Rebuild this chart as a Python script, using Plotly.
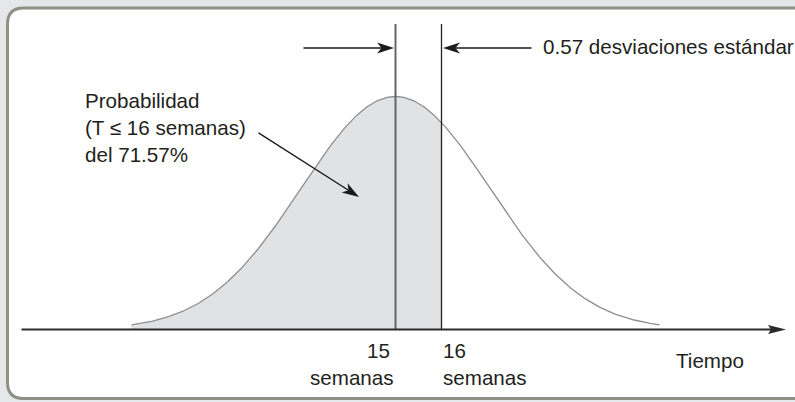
import math

import numpy as np
import plotly.graph_objects as go

# ── values ───────────────────────────────────────────────────────────────────
MEAN_WEEKS = 15          # expected completion time
TARGET_WEEKS = 16        # deadline
Z_SCORE = 0.57           # standard deviations between the two
PROB_TEXT = ["Probabilidad", "(T ≤ 16 semanas)", "del 71.57%"]
TICK_WEEKS = [15, 16]
TICK_UNIT = "semanas"
AXIS_TITLE = "Tiempo"
Z_TEXT = "0.57 desviaciones estándar"

# the bell is drawn illustratively (not to z-scale), as in the original
CURVE_SD = 2.05
TAIL_SD = 2.8

W, H = 795, 402
FONT = "Liberation Sans, Arial, sans-serif"

# axis mapping: 46 px per week, 15 wk at x=395.5 px; baseline at y=329.5 px, peak 233 px tall
PX_WEEK = 46.0
X0 = MEAN_WEEKS - 395.5 / PX_WEEK
X1 = X0 + W / PX_WEEK
PX_Y = 233.0
Y0 = -(H - 329.5) / PX_Y
Y1 = Y0 + H / PX_Y


def py(pix):
    """pixel row (from top) -> y data value"""
    return Y0 + (H - pix) / PX_Y


def pxx(pix):
    """pixel column -> x data value"""
    return X0 + pix / PX_WEEK


def paper(px_x, px_y):
    return px_x / W, 1 - px_y / H


def bell(x):
    return np.exp(-0.5 * ((x - MEAN_WEEKS) / CURVE_SD) ** 2)


x_all = np.linspace(MEAN_WEEKS - TAIL_SD * CURVE_SD, MEAN_WEEKS + TAIL_SD * CURVE_SD, 400)
x_fill = np.linspace(MEAN_WEEKS - TAIL_SD * CURVE_SD, TARGET_WEEKS, 250)

fig = go.Figure()
fig.add_trace(go.Scatter(
    x=x_fill, y=bell(x_fill), mode="lines", line=dict(width=0),
    fill="tozeroy", fillcolor="#e1e2e4", hoverinfo="skip",
))
fig.add_trace(go.Scatter(
    x=x_all, y=bell(x_all), mode="lines",
    line=dict(color="#8e8e8e", width=1.3), hoverinfo="skip",
))

# ── rounded frame ────────────────────────────────────────────────────────────
l, t, r, b, rad = 7.5, 8.0, 815.0, 398.5, 16.0
pts = [
    ("M", l + rad, t), ("L", r - rad, t), ("Q", r, t, r, t + rad),
    ("L", r, b - rad), ("Q", r, b, r - rad, b), ("L", l + rad, b),
    ("Q", l, b, l, b - rad), ("L", l, t + rad), ("Q", l, t, l + rad, t),
]
path = ""
for p in pts:
    cmd, coords = p[0], p[1:]
    xy = []
    for i in range(0, len(coords), 2):
        px_, py_ = paper(coords[i], coords[i + 1])
        xy.append(f"{px_:.5f},{py_:.5f}")
    path += cmd + " " + " ".join(xy) + " "
fig.add_shape(type="path", path=path + "Z", xref="paper", yref="paper",
              line=dict(color="#8e8f85", width=3), fillcolor="white", layer="below")

# vertical markers at 15 and 16 weeks (15 is drawn grey and heavier in the original)
fig.add_shape(type="line", x0=TICK_WEEKS[0], x1=TICK_WEEKS[0], y0=0, y1=py(24),
              line=dict(color="#666666", width=2))
fig.add_shape(type="line", x0=TICK_WEEKS[1], x1=TICK_WEEKS[1], y0=0, y1=py(24),
              line=dict(color="#222222", width=1.3))


def arrow(tip_x, tip_y, dx, dy, width, length=17.0, half=5.5, notch=4.5, color="#1a1a1a"):
    """line from tail (tip + dx,dy pixels, dy downward) to tip with a stealth head"""
    ang = math.atan2(dy, -dx)  # direction tail -> tip, y measured up
    c, s = math.cos(ang), math.sin(ang)
    back = length - notch
    fig.add_annotation(x=tip_x, y=tip_y, ax=dx, ay=dy, text="", showarrow=True,
                       arrowhead=0, arrowwidth=width, arrowcolor=color,
                       standoff=back)
    head = [(0, 0), (-length, -half), (-back, 0), (-length, half)]
    rot = [(hx * c - hy * s, hx * s + hy * c) for hx, hy in head]
    d = "M" + " L".join(f"{hx:.2f},{hy:.2f}" for hx, hy in rot) + " Z"
    fig.add_shape(type="path", path=d, xsizemode="pixel", ysizemode="pixel",
                  xanchor=tip_x, yanchor=tip_y, xref="x", yref="y",
                  fillcolor=color, line=dict(width=0))


# time axis with arrow
arrow(pxx(786), 0, -766, 0, 2, length=18, half=4.5, notch=3, color="#2b2b2b")

# arrows marking the 0.57 sd gap
arrow_y = py(48)
arrow(pxx(394), arrow_y, -92, 0, 1.4)
arrow(pxx(443), arrow_y, 90, 0, 1.4)

# arrow from probability label into shaded area
arrow(pxx(359), py(197), -102, -65, 1.4)

txt_font = dict(family=FONT, size=20.6, color="#231f20")


def label(text, px_x, px_y, anchor="left"):
    xx, yy = paper(px_x, px_y)
    fig.add_annotation(x=xx, y=yy, xref="paper", yref="paper", text=text,
                       showarrow=False, xanchor=anchor, yanchor="middle",
                       font=txt_font, align=anchor)


label(Z_TEXT, 541, 47)
label("<br>".join(PROB_TEXT), 83, 127)
label(str(TICK_WEEKS[0]), 392, 350, "right")
label(TICK_UNIT, 396, 377, "right")
label(str(TICK_WEEKS[1]), 441, 350)
label(TICK_UNIT, 441, 377)
label(AXIS_TITLE, 674, 360)

fig.update_layout(
    width=W, height=H,
    margin=dict(l=0, r=0, t=0, b=0),
    paper_bgcolor="#e6e7e8",
    plot_bgcolor="rgba(0,0,0,0)",
    showlegend=False,
    xaxis=dict(range=[X0, X1], visible=False, fixedrange=True),
    yaxis=dict(range=[Y0, Y1], visible=False, fixedrange=True),
)

# the page's default 8px body margin would shift everything
fig.write_html("out.html", config={"displayModeBar": False},
               post_script="document.body.style.margin='0';document.body.style.overflow='hidden';")
